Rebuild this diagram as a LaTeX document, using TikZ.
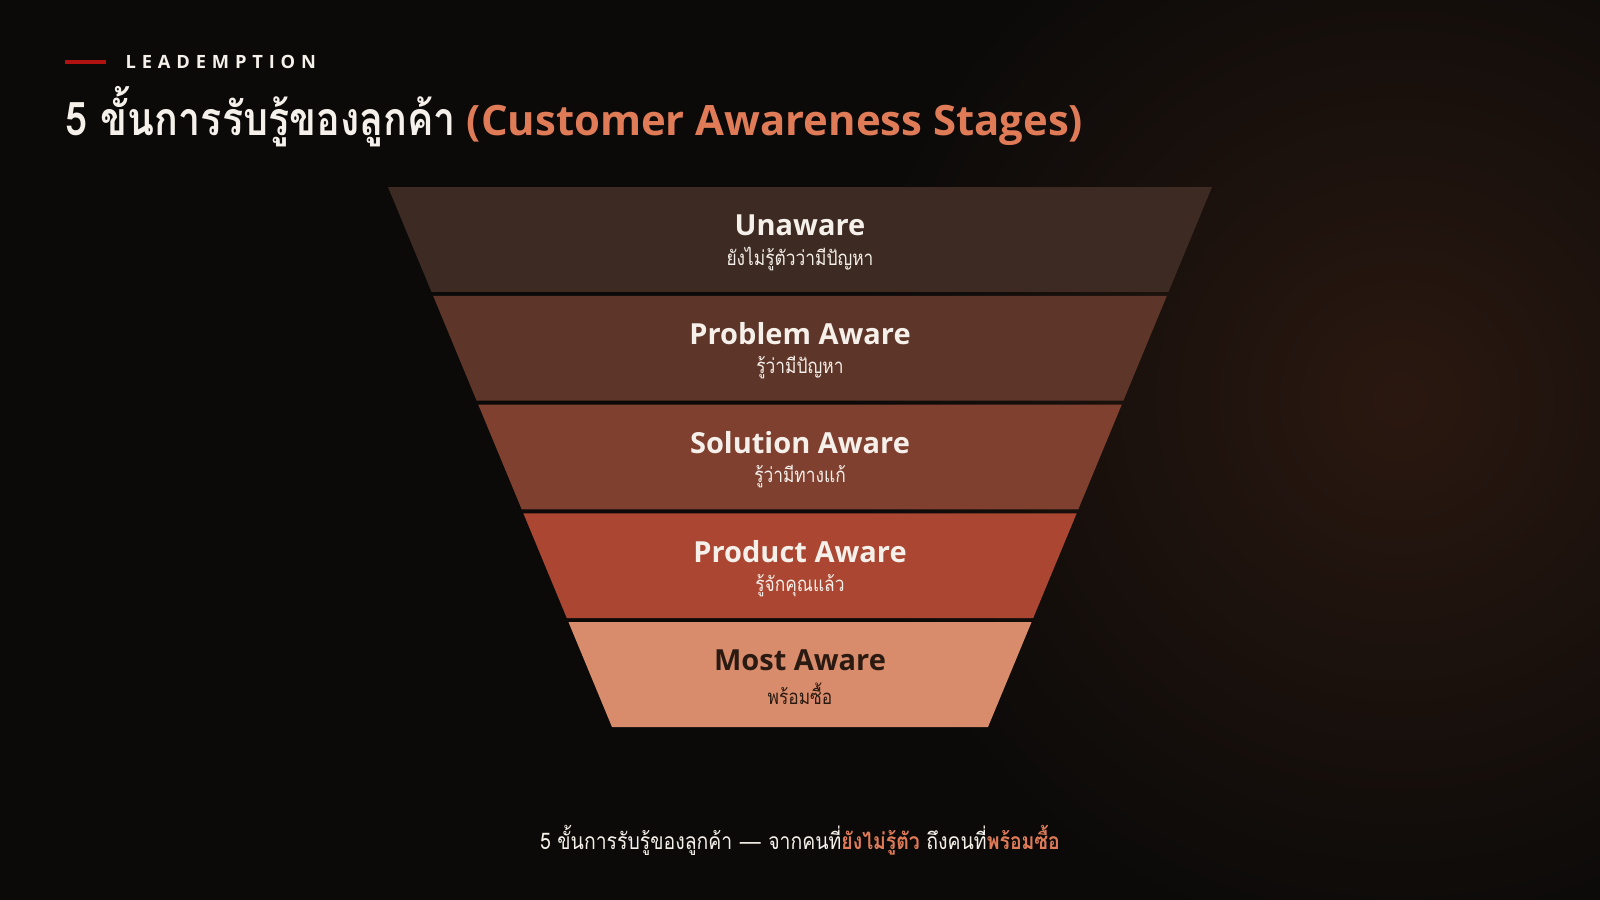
\documentclass[tikz,border=0pt]{standalone}
\usepackage{fontspec}
\setmainfont{Open Sans}
\newfontfamily\thaifont[Script=Thai,FakeStretch=0.85]{Loma}
\definecolor{bgdark}{HTML}{0B0A09}
\definecolor{glow}{HTML}{2A1810}
\definecolor{brandred}{HTML}{B01212}
\definecolor{accent}{HTML}{E07B58}
\definecolor{txtlight}{HTML}{F6F0EA}
\definecolor{txtdark}{HTML}{2B1A12}
\definecolor{bandA}{HTML}{3D2B23}
\definecolor{bandB}{HTML}{5D3529}
\definecolor{bandC}{HTML}{7F4030}
\definecolor{bandD}{HTML}{AA4631}
\definecolor{bandE}{HTML}{D98C6C}
\tikzset{
  stagetitle/.style={inner sep=0pt, font=\bfseries\fontsize{8.25}{10}\selectfont},
  stagesub/.style={inner sep=0pt, font=\thaifont\fontsize{5.8}{7}\selectfont},
}
\begin{document}
\begin{tikzpicture}[x=0.01cm,y=-0.01cm]
		\useasboundingbox (0,0) rectangle (1600,900);
		\clip (0,0) rectangle (1600,900);
		\fill [bgdark] (0,0) rectangle (1600,900);
		\shade [inner color=glow, outer color=bgdark] (1400,400) circle (560);
		% header
		\coordinate (barL) at (65,62);
		\coordinate (barR) at (106,62);
		\draw [brandred, line width=0.9pt] (barL) -- (barR);
		\node [anchor=west, inner sep=0pt, text=txtlight,
			font=\bfseries\fontsize{5.2}{6}\selectfont\addfontfeature{LetterSpace=32}]
			(brand) at (125,62) {LEADEMPTION};
		\node [anchor=west, inner sep=0pt, text=txtlight, font=\bfseries\fontsize{11.9}{14}\selectfont]
			(title) at (65,117) {{\thaifont\fontsize{13.2}{14}\selectfont 5 ขั้นการรับรู้ของลูกค้า} \textcolor{accent}{(Customer Awareness Stages)}};
		% funnel bands
		\foreach \i/\col/\tc/\name/\sub in {%
			0/bandA/txtlight/Unaware/ยังไม่รู้ตัวว่ามีปัญหา,
			1/bandB/txtlight/Problem Aware/รู้ว่ามีปัญหา,
			2/bandC/txtlight/Solution Aware/รู้ว่ามีทางแก้,
			3/bandD/txtlight/Product Aware/รู้จักคุณแล้ว,
			4/bandE/txtdark/Most Aware/พร้อมซื้อ}{%
			\pgfmathsetmacro\yt{187+\i*108.8}
			\pgfmathsetmacro\yb{\yt+104.8}
			\pgfmathsetmacro\wt{412-0.4148*(\yt-187)}
			\pgfmathsetmacro\wb{412-0.4148*(\yb-187)}
			\fill [\col] (800-\wt,\yt) -- (800+\wt,\yt) -- (800+\wb,\yb) -- (800-\wb,\yb) -- cycle;
			\node [stagetitle, text=\tc] (stage\i) at (800,\yt+38) {\name};
			\node [stagesub, text=\tc] (sub\i) at (800,\yt+72) {\sub};
			}
		% footer
		\node [inner sep=0pt, text=txtlight, font=\thaifont\fontsize{6.5}{8}\selectfont]
			(foot) at (800,840) {5 ขั้นการรับรู้ของลูกค้า {\rmfamily —} จากคนที่\textcolor{accent}{\bfseries ยังไม่รู้ตัว} ถึงคนที่\textcolor{accent}{\bfseries พร้อมซื้อ}};
	\end{tikzpicture}
\end{document}
